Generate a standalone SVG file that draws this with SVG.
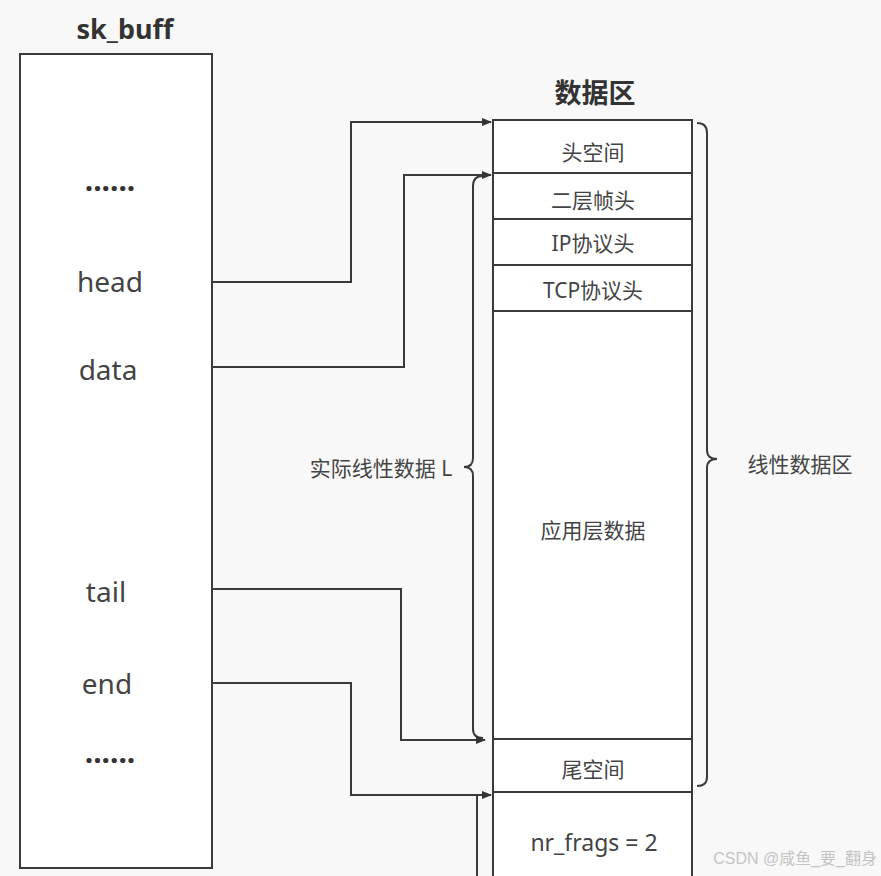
<svg xmlns="http://www.w3.org/2000/svg" width="881" height="876" viewBox="0 0 881 876">
<defs>
<marker id="arr" markerWidth="10" markerHeight="8" refX="9" refY="4" orient="auto" markerUnits="userSpaceOnUse">
<path d="M0,0 L10,4 L0,8 Z" fill="#333"/>
</marker>
<style>
.box{fill:#fff;stroke:#3a3a3a;stroke-width:2}
.ln{fill:none;stroke:#3a3a3a;stroke-width:2}
.t{font-family:"Noto Sans","Noto Sans CJK SC",sans-serif;fill:#444;text-anchor:middle}
.b{font-family:"Noto Sans","Noto Sans CJK SC",sans-serif;fill:#333;font-weight:bold;text-anchor:middle}
</style>
</defs>
<rect width="881" height="876" fill="#f8f8f8"/>
<g id="skbuff">
<rect class="box" x="20" y="54" width="192" height="814"/>
<text class="b" x="125" y="39" font-size="27">sk_buff</text>
<text class="b" x="110" y="191" font-size="30">......</text>
<text class="t" x="110" y="292" font-size="28">head</text>
<text class="t" x="108" y="380" font-size="28">data</text>
<text class="t" x="106" y="602" font-size="28">tail</text>
<text class="t" x="107" y="694" font-size="28">end</text>
<text class="b" x="110" y="763" font-size="30">......</text>
</g>
<g id="dataarea">
<text class="b" x="595" y="103" font-size="27">数据区</text>
<rect class="box" x="493" y="120" width="199" height="770"/>
<line class="ln" x1="493" y1="173" x2="692" y2="173"/>
<line class="ln" x1="493" y1="219" x2="692" y2="219"/>
<line class="ln" x1="493" y1="265" x2="692" y2="265"/>
<line class="ln" x1="493" y1="311" x2="692" y2="311"/>
<line class="ln" x1="493" y1="739" x2="692" y2="739"/>
<line class="ln" x1="493" y1="792" x2="692" y2="792"/>
<text class="t" x="593" y="160" font-size="21">头空间</text>
<text class="t" x="593" y="208" font-size="21">二层帧头</text>
<text class="t" x="593" y="251" font-size="21">IP协议头</text>
<text class="t" x="593" y="298" font-size="21">TCP协议头</text>
<text class="t" x="593" y="538" font-size="21">应用层数据</text>
<text class="t" x="593" y="777" font-size="21">尾空间</text>
<text class="t" x="594" y="851" font-size="23">nr_frags = 2</text>
</g>
<g id="braces">
<path class="ln" d="M483,176 Q473,176 473,186 L473,458 Q473,467 464,467 Q473,467 473,476 L473,729 Q473,738 483,738"/>
<text class="t" x="381" y="476" font-size="21">实际线性数据 L</text>
<path class="ln" d="M697,123 Q707,123 707,133 L707,450 Q707,459 717,459 Q707,459 707,468 L707,777 Q707,786 697,786"/>
<text class="t" x="800" y="472" font-size="21">线性数据区</text>
</g>
<g id="connectors">
<path class="ln" d="M212,282 L351,282 L351,122 L491,122" marker-end="url(#arr)"/>
<path class="ln" d="M212,367 L404,367 L404,175 L491,175" marker-end="url(#arr)"/>
<path class="ln" d="M212,589 L401,589 L401,740 L485,740" marker-end="url(#arr)"/>
<path class="ln" d="M212,683 L351,683 L351,795 L491,795" marker-end="url(#arr)"/>
<line class="ln" x1="477" y1="876" x2="477" y2="796"/>
</g>
<text x="877" y="864" font-family="Liberation Sans,Noto Sans CJK SC,sans-serif" font-size="16" fill="#c4c4c4" text-anchor="end">CSDN @咸鱼_要_翻身</text>
</svg>
